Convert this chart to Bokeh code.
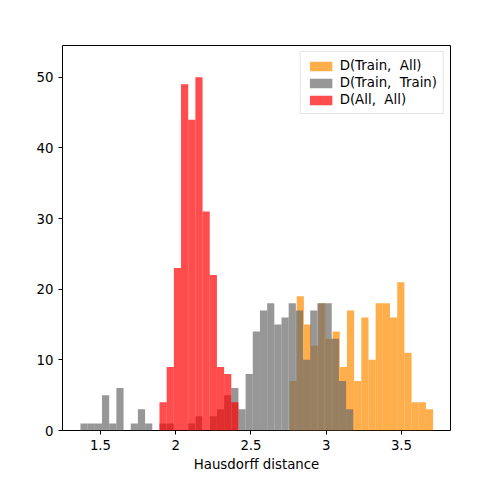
from bokeh.plotting import figure
from bokeh.models import FixedTicker, Range1d
from bokeh.embed import file_html
from bokeh.resources import INLINE

# histogram counts; all series share one bin width
bin_width = 0.0477

train_all_start = 2.756
train_all_counts = [7, 19, 15, 12, 18, 13, 14, 9, 17, 7, 16, 10, 18, 18, 16, 21, 11, 4, 4, 3]

train_train_start = 1.367
train_train_counts = [1, 1, 1, 5, 1, 6, 0, 1, 3, 1, 0, 1, 1, 0, 0, 1, 2, 0, 2, 3, 5,
                      6, 3, 8, 14, 17, 18, 15, 16, 18, 17, 10, 17, 18, 18, 13, 7, 3]

all_all_start = 1.892
all_all_counts = [4, 9, 23, 49, 44, 50, 31, 22, 9, 8, 4]

series = [
    ("D(Train,  All)", train_all_start, train_all_counts, "#ff8c00"),
    ("D(Train,  Train)", train_train_start, train_train_counts, "#6b6b6b"),
    ("D(All,  All)", all_all_start, all_all_counts, "#ff0000"),
]

p = figure(width=484, height=474, output_backend="svg", toolbar_location=None,
           x_range=Range1d(1.2475, 3.8256), y_range=Range1d(0, 54.5),
           min_border_left=62, min_border_right=34, min_border_top=45, min_border_bottom=38)

for label, start, counts, color in series:
    lefts = [start + i * bin_width for i in range(len(counts))]
    rights = [x + bin_width for x in lefts]
    p.quad(left=lefts, right=rights, bottom=0, top=counts, fill_color=color,
           fill_alpha=0.7, line_color=None, legend_label=label)

p.xgrid.visible = False
p.ygrid.visible = False
p.outline_line_color = "black"
p.outline_line_width = 1
p.xaxis.ticker = FixedTicker(ticks=[1.5, 2.0, 2.5, 3.0, 3.5])
p.yaxis.ticker = FixedTicker(ticks=[0, 10, 20, 30, 40, 50])
p.xaxis.axis_label = "Hausdorff distance"
p.xaxis.axis_label_standoff = 4
for ax in (p.xaxis[0], p.yaxis[0]):
    ax.minor_tick_line_color = None
    ax.major_label_text_font = "DejaVu Sans"
    ax.major_label_text_font_size = "10pt"
    ax.major_label_text_color = "black"
    ax.axis_label_text_font = "DejaVu Sans"
    ax.axis_label_text_font_style = "normal"
    ax.axis_label_text_font_size = "10pt"
    ax.axis_label_text_color = "black"
    ax.major_tick_in = 0
    ax.major_tick_out = 4
    ax.axis_line_color = None
    ax.major_tick_line_color = "black"

p.legend.location = "top_right"
p.legend.label_text_font = "DejaVu Sans"
p.legend.label_text_font_size = "10pt"
p.legend.label_text_color = "black"
p.legend.border_line_color = "#cccccc"
p.legend.glyph_width = 28
p.legend.glyph_height = 12
p.legend.spacing = 2
p.legend.margin = 6
p.legend.padding = 6

open("out.html", "w").write(file_html(p, INLINE))
